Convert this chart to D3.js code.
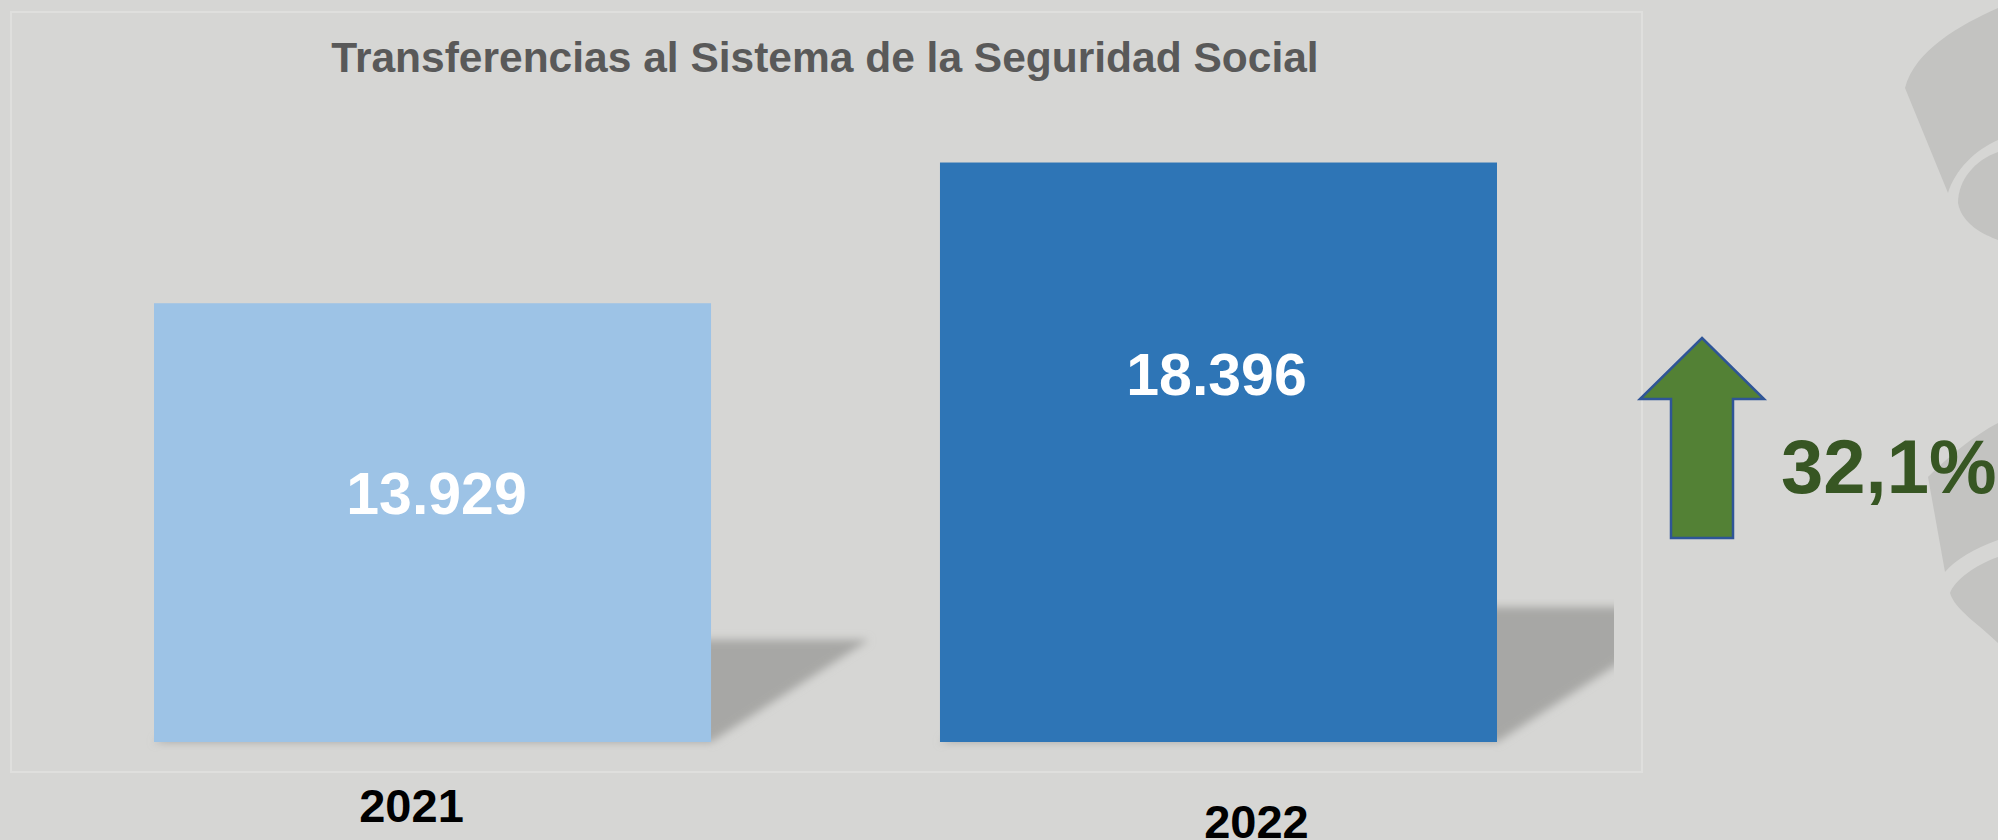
<!DOCTYPE html>
<meta charset="utf-8">
<html>
<head>
<style>
  html, body { margin: 0; padding: 0; background: #d6d6d4; }
  svg { display: block; }
  text { font-family: "Liberation Sans", Arial, sans-serif; font-weight: bold; }
</style>
</head>
<body>
<script src="https://cdn.jsdelivr.net/npm/d3@7"></script>
<script>
// data
var years = ["2021", "2022"];
var values = [13929, 18396];
var valueLabels = ["13.929", "18.396"];
var growthLabel = "32,1%";
var title = "Transferencias al Sistema de la Seguridad Social";

var W = 1998, H = 840;
var base = 742;

var svg = d3.select("body").append("svg")
    .attr("width", W)
    .attr("height", H);

var defs = svg.append("defs");
defs.append("filter").attr("id", "blur")
    .attr("x", "-20%").attr("y", "-20%").attr("width", "140%").attr("height", "140%")
  .append("feGaussianBlur").attr("stdDeviation", 4);
defs.append("clipPath").attr("id", "plotClip")
  .append("rect").attr("x", 11).attr("y", 12).attr("width", 1603).attr("height", 760);

// decorative shapes on the right edge
var deco = [
  "M1905,88 C1915,50 1960,25 1998,8 L1998,140 C1975,150 1955,170 1948,193 Z",
  "M1998,152 C1975,160 1958,180 1958,203 C1962,225 1985,235 1998,240 Z",
  "M1928,477 C1950,455 1975,435 1998,423 L1998,540 C1975,548 1955,560 1945,572 Z",
  "M1998,557 C1975,565 1955,580 1950,593 C1955,610 1980,625 1998,643 Z"
];
svg.selectAll("path.deco").data(deco).enter().append("path")
    .attr("class", "deco")
    .attr("d", function(d) { return d; })
    .attr("fill", "#c3c3c1");

// chart frame
svg.append("rect")
    .attr("x", 11).attr("y", 12)
    .attr("width", 1631).attr("height", 760)
    .attr("fill", "#d6d6d4")
    .attr("stroke", "#dfdfdd")
    .attr("stroke-width", 2);

var x = d3.scaleBand()
    .domain(years)
    .range([154, 1497])
    .paddingInner(0.2913)
    .paddingOuter(0);

var y = d3.scaleLinear()
    .domain([0, 20000])
    .range([base, 112]);

var data = years.map(function(d, i) {
  return { year: d, value: values[i], label: valueLabels[i] };
});

// perspective shadows behind the bars
var plot = svg.append("g").attr("clip-path", "url(#plotClip)");
plot.selectAll("path.shadow").data(data).enter().append("path")
    .attr("class", "shadow")
    .attr("fill", "#a7a7a5")
    .attr("filter", "url(#blur)")
    .attr("d", function(d) {
      var h = base - y(d.value);
      var sh = h * 0.233, dx = h * 0.36;
      var x0 = x(d.year), x1 = x0 + x.bandwidth();
      return "M" + x0 + "," + base + "L" + x1 + "," + base +
             "L" + (x1 + dx) + "," + (base - sh) + "L" + (x0 + dx) + "," + (base - sh) + "Z";
    });

var colors = ["#9dc3e6", "#2e75b6"];
plot.selectAll("rect.bar").data(data).enter().append("rect")
    .attr("class", "bar")
    .attr("x", function(d) { return x(d.year); })
    .attr("width", x.bandwidth())
    .attr("y", function(d) { return y(d.value); })
    .attr("height", function(d) { return base - y(d.value); })
    .attr("fill", function(d, i) { return colors[i]; });

// value labels (placed like in the original slide)
var labelDrop = [211, 232], labelShift = [4, -2];
svg.selectAll("text.val").data(data).enter().append("text")
    .attr("class", "val")
    .attr("x", function(d, i) { return x(d.year) + x.bandwidth() / 2 + labelShift[i]; })
    .attr("y", function(d, i) { return y(d.value) + labelDrop[i]; })
    .attr("text-anchor", "middle")
    .attr("fill", "#ffffff")
    .style("font-size", "59px")
    .text(function(d) { return d.label; });

// year labels, outside the frame
var yearShift = [-21, 38], yearBase = [822, 838];
svg.selectAll("text.year").data(data).enter().append("text")
    .attr("class", "year")
    .attr("x", function(d, i) { return x(d.year) + x.bandwidth() / 2 + yearShift[i]; })
    .attr("y", function(d, i) { return yearBase[i]; })
    .attr("text-anchor", "middle")
    .attr("fill", "#000000")
    .style("font-size", "47px")
    .text(function(d) { return d.year; });

svg.append("text")
    .attr("x", 825)
    .attr("y", 72)
    .attr("text-anchor", "middle")
    .attr("fill", "#595959")
    .style("font-size", "42.5px")
    .text(title);

// growth arrow
var arrow = [[1702, 338], [1764, 399], [1733, 399], [1733, 538],
             [1671, 538], [1671, 399], [1640, 399]];
svg.append("path")
    .attr("d", d3.line()(arrow) + "Z")
    .attr("fill", "#538135")
    .attr("stroke", "#2f5597")
    .attr("stroke-width", 2.5);

svg.append("text")
    .attr("x", 1781)
    .attr("y", 493)
    .attr("fill", "#375623")
    .style("font-size", "76px")
    .text(growthLabel);
</script>
</body>
</html>
